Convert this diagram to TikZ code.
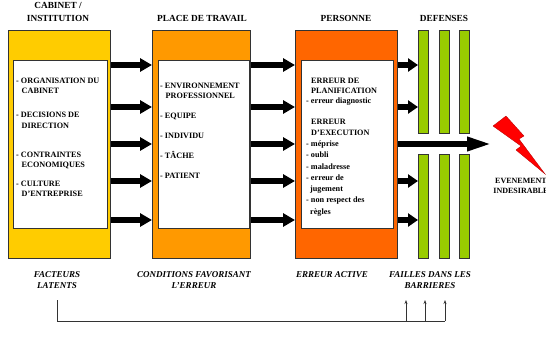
\documentclass[tikz,border=0pt]{standalone}
\usepackage{fontspec}
\setmainfont{Liberation Serif}
\usepackage{tikz}
\usetikzlibrary{positioning}
\usetikzlibrary{arrows.meta,shapes}
\usetikzlibrary{calc}
\definecolor{cabcol}{HTML}{FFCC00}
\definecolor{placecol}{HTML}{FF9900}
\definecolor{perscol}{HTML}{FF6600}
\definecolor{defcol}{HTML}{99CC00}
\tikzstyle{bigbox}=[rectangle,draw=black!80,line width=0.8pt,inner sep=0pt,anchor=north west]
\tikzstyle{inbox}=[rectangle,draw=black!80,fill=white,line width=0.6pt,inner sep=0pt,anchor=north west]
\tikzstyle{bar}=[rectangle,draw=black!80,fill=defcol,line width=0.6pt,inner sep=0pt,anchor=north west,minimum width=10pt]
\tikzstyle{fat} = [draw,line width=6pt,-{Triangle[length=12pt,width=13pt]}]
\tikzstyle{fatshort} = [draw,line width=6pt,-{Triangle[length=10pt,width=13pt]}]
\tikzstyle{txt} = [font=\bfseries\fontsize{8.2}{10}\selectfont,inner sep=0pt,align=left,anchor=base west]
\tikzstyle{head} = [font=\bfseries\fontsize{9.3}{13}\selectfont,inner sep=0pt,align=center]
\tikzstyle{foot} = [font=\bfseries\itshape\fontsize{9}{11}\selectfont,inner sep=0pt,align=center]
\tikzset{thin arrow/.style={draw=black!80,line width=0.6pt,-{Stealth[length=4pt,width=3pt]}}}

\begin{document}
\begin{tikzpicture}[x=1pt,y=-1pt]
   \useasboundingbox (0,0) rectangle (546,337);

   % the three columns
   \node[bigbox,fill=cabcol,minimum width=102pt,minimum height=228pt] (cab) at (8,30) {};
   \node[bigbox,fill=placecol,minimum width=98pt,minimum height=228pt] (plc) at (152,30) {};
   \node[bigbox,fill=perscol,minimum width=102pt,minimum height=228pt] (pers) at (295,30) {};

   \node[inbox,minimum width=94pt,minimum height=168pt] (cabin) at (13,60) {};
   \node[inbox,minimum width=91pt,minimum height=168pt] (plcin) at (157.5,60) {};
   \node[inbox,minimum width=92pt,minimum height=168pt] (persin) at (301,60) {};

   % defenses
   \foreach \x/\n in {418/1,439/2,459/3} {
      \node[bar,minimum height=103pt] (dt\n) at (\x,30) {};
      \node[bar,minimum height=104pt] (db\n) at (\x,154) {};
   }

   % headings
   \node[head] (hcab) at (58,11.5) {CABINET /\\INSTITUTION};
   \node[head] (hplc) at (202,18) {PLACE DE TRAVAIL};
   \node[head] (hpers) at (346,18) {PERSONNE};
   \node[head] (hdef) at (444,18) {DEFENSES};

   % texts (base = last line)
   \node[txt] (c1) at (16,93) {- ORGANISATION DU\\\hspace*{5.5pt}CABINET};
   \node[txt] (c2) at (16,128) {- DECISIONS DE\\\hspace*{5.5pt}DIRECTION};
   \node[txt] (c3) at (16,167) {- CONTRAINTES\\\hspace*{5.5pt}ECONOMIQUES};
   \node[txt] (c4) at (16,196) {- CULTURE\\\hspace*{5.5pt}D'ENTREPRISE};

   \node[txt] (p1) at (160,99) {- ENVIRONNEMENT\\\hspace*{5.5pt}PROFESSIONNEL};
   \foreach \y/\n/\t in {118/2/EQUIPE, 138/3/INDIVIDU, 158/4/TÂCHE, 178/5/PATIENT}
      \node[txt] (p\n) at (160,\y) {- \t};

   \node[txt] (e1) at (306,103) {\hspace*{5pt}ERREUR DE\\\hspace*{5pt}PLANIFICATION\\- erreur diagnostic};
   \node[txt,font=\bfseries\fontsize{8.2}{11.25}\selectfont] (e2) at (306,214)
      {\hspace*{5pt}ERREUR\\\hspace*{5pt}D'EXECUTION\\- méprise\\- oubli\\- maladresse\\- erreur de\\\hspace*{4pt}jugement\\- non respect des\\\hspace*{4pt}règles};

   % arrows
   \foreach \y in {65,107,144,181,220} {
      \path[fat] (cab.east |- 0,\y) -- (plc.west |- 0,\y);
      \path[fat] (plc.east |- 0,\y) -- (pers.west |- 0,\y);
   }
   \foreach \y/\n in {65/t1,107/t1,181/b1,220/b1}
      \path[fatshort] (pers.east |- 0,\y) -- (d\n.west |- 0,\y);
   \coordinate (hit) at (492,144);
   \path[draw,line width=6pt,-{Triangle[length=25pt,width=13pt]}] (pers.east |- hit) -- (hit);

   % event
   \fill[red,draw=red!70!black,line width=0.3pt] (493,126) -- (506,116) -- (524,136) -- (519,139) -- (545,174) -- (516,150) -- (521,146) -- cycle;
   \node[txt,align=center,anchor=base,font=\bfseries\fontsize{8}{10}\selectfont] (evt) at (521,193) {EVENEMENT\\INDESIRABLE};

   % bottom labels
   \node[foot] (fcab) at (57,280) {FACTEURS\\LATENTS};
   \node[foot] (fplc) at (194,280) {CONDITIONS FAVORISANT\\L'ERREUR};
   \node[foot] (fpers) at (332,275) {ERREUR ACTIVE};
   \node[foot] (fdef) at (430,280) {FAILLES DANS LES\\BARRIERES};

   % feedback
   \coordinate (s0) at (57,300);
   \coordinate (s1) at (57,321);
   \draw[draw=black!80,line width=0.6pt] (s0) -- (s1) -- (445,321);
   \foreach \x in {406,425,445}
      \path[thin arrow] (\x,321) -- (\x,300);

\end{tikzpicture}
\end{document}
